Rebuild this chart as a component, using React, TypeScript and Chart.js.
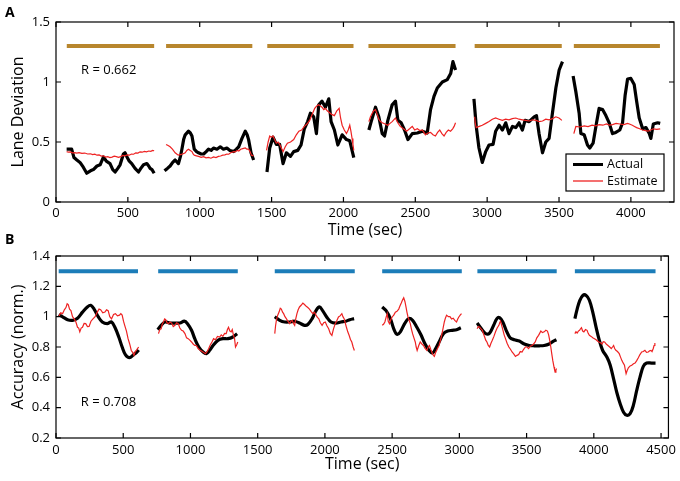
import { useEffect, useRef } from "react"
import { Chart, registerables } from "chart.js"

Chart.register(...registerables)

const FONT = "'Open Sans', 'Liberation Sans', Arial, sans-serif"

// ---- Panel A: lane deviation ----
const laneTimeTicks = [0, 500, 1000, 1500, 2000, 2500, 3000, 3500, 4000]
const laneValueTicks = [0, 0.5, 1, 1.5]
const laneBlocks = [[75, 683], [766, 1366], [1470, 2070], [2174, 2780], [2913, 3519], [3603, 4202]]
const laneActual = [
  [[74, 0.44], [109, 0.44], [125, 0.37], [145, 0.35], [167, 0.33], [190, 0.29], [214, 0.24], [240, 0.26], [260, 0.27], [285, 0.3], [307, 0.31], [330, 0.375], [350, 0.34], [376, 0.32], [395, 0.27], [411, 0.25], [430, 0.28], [446, 0.31], [469, 0.4], [480, 0.41], [492, 0.38], [510, 0.34], [527, 0.32], [550, 0.28], [574, 0.25], [590, 0.28], [609, 0.31], [632, 0.32], [645, 0.3], [655, 0.28], [668, 0.27], [683, 0.24]],
  [[755, 0.26], [775, 0.28], [794, 0.3], [812, 0.33], [829, 0.35], [852, 0.32], [866, 0.38], [876, 0.44], [888, 0.52], [899, 0.56], [922, 0.59], [935, 0.575], [946, 0.55], [962, 0.44], [978, 0.42], [992, 0.41], [1010, 0.4], [1027, 0.4], [1045, 0.42], [1061, 0.44], [1080, 0.43], [1096, 0.45], [1120, 0.44], [1143, 0.46], [1165, 0.44], [1189, 0.45], [1210, 0.43], [1236, 0.42], [1255, 0.44], [1271, 0.46], [1294, 0.53], [1317, 0.59], [1330, 0.56], [1340, 0.52], [1357, 0.41], [1375, 0.35]],
  [[1468, 0.25], [1487, 0.45], [1510, 0.54], [1533, 0.48], [1556, 0.48], [1580, 0.32], [1603, 0.41], [1631, 0.38], [1654, 0.42], [1682, 0.43], [1705, 0.475], [1728, 0.61], [1751, 0.67], [1770, 0.74], [1793, 0.71], [1812, 0.57], [1828, 0.81], [1851, 0.84], [1875, 0.79], [1898, 0.86], [1914, 0.67], [1937, 0.6], [1961, 0.475], [1991, 0.56], [2021, 0.52], [2044, 0.51], [2072, 0.37]],
  [[2177, 0.6], [2193, 0.67], [2223, 0.79], [2246, 0.71], [2270, 0.57], [2286, 0.55], [2309, 0.68], [2339, 0.81], [2362, 0.84], [2379, 0.68], [2402, 0.66], [2425, 0.6], [2449, 0.52], [2479, 0.57], [2514, 0.575], [2549, 0.59], [2583, 0.575], [2606, 0.77], [2630, 0.88], [2653, 0.95], [2688, 1.0], [2723, 1.02], [2746, 1.07], [2762, 1.17], [2780, 1.1]],
  [[2908, 0.86], [2924, 0.63], [2943, 0.45], [2966, 0.33], [2990, 0.42], [3013, 0.475], [3041, 0.48], [3059, 0.59], [3083, 0.64], [3106, 0.6], [3129, 0.66], [3152, 0.57], [3176, 0.63], [3199, 0.62], [3222, 0.66], [3245, 0.6], [3264, 0.68], [3292, 0.67], [3327, 0.71], [3343, 0.72], [3361, 0.57], [3385, 0.41], [3408, 0.5], [3431, 0.53], [3454, 0.74], [3478, 0.95], [3501, 1.1], [3524, 1.17]],
  [[3598, 1.05], [3617, 0.92], [3640, 0.74], [3652, 0.57], [3675, 0.56], [3698, 0.475], [3714, 0.45], [3737, 0.49], [3761, 0.66], [3779, 0.78], [3803, 0.77], [3826, 0.72], [3849, 0.66], [3872, 0.57], [3895, 0.58], [3923, 0.6], [3942, 0.66], [3960, 0.89], [3977, 1.025], [4000, 1.03], [4023, 0.98], [4040, 0.84], [4058, 0.7], [4082, 0.61], [4105, 0.62], [4128, 0.57], [4139, 0.53], [4156, 0.65], [4186, 0.66], [4204, 0.655]],
]
const laneEstimate = [
  [[74, 0.42], [87, 0.415], [100, 0.418], [115, 0.41], [130, 0.412], [145, 0.408], [160, 0.412], [180, 0.405], [200, 0.408], [220, 0.4], [240, 0.402], [255, 0.395], [270, 0.398], [285, 0.39], [300, 0.392], [315, 0.383], [330, 0.385], [345, 0.375], [360, 0.378], [375, 0.37], [390, 0.374], [405, 0.382], [420, 0.378], [435, 0.372], [450, 0.378], [465, 0.388], [480, 0.384], [495, 0.392], [510, 0.39], [525, 0.4], [540, 0.398], [555, 0.41], [570, 0.408], [585, 0.418], [600, 0.415], [615, 0.422], [630, 0.418], [645, 0.425], [660, 0.422], [672, 0.43], [683, 0.427]],
  [[766, 0.48], [780, 0.47], [794, 0.46], [810, 0.44], [829, 0.41], [840, 0.4], [850, 0.39], [865, 0.395], [880, 0.4], [890, 0.405], [899, 0.41], [910, 0.43], [922, 0.44], [934, 0.43], [946, 0.42], [954, 0.4], [962, 0.39], [977, 0.385], [992, 0.38], [1010, 0.372], [1027, 0.378], [1044, 0.368], [1061, 0.372], [1078, 0.365], [1096, 0.375], [1113, 0.37], [1130, 0.38], [1145, 0.383], [1160, 0.39], [1175, 0.393], [1189, 0.4], [1202, 0.398], [1215, 0.41], [1225, 0.415], [1236, 0.42], [1248, 0.418], [1260, 0.43], [1272, 0.425], [1285, 0.44], [1300, 0.445], [1317, 0.45], [1328, 0.44], [1340, 0.44], [1350, 0.42], [1360, 0.39], [1375, 0.385]],
  [[1465, 0.43], [1476, 0.5], [1487, 0.55], [1498, 0.54], [1510, 0.55], [1521, 0.52], [1533, 0.49], [1545, 0.5], [1556, 0.48], [1568, 0.45], [1580, 0.42], [1595, 0.46], [1610, 0.49], [1632, 0.5], [1654, 0.52], [1672, 0.56], [1690, 0.59], [1709, 0.6], [1728, 0.63], [1746, 0.65], [1765, 0.68], [1782, 0.73], [1800, 0.78], [1814, 0.8], [1828, 0.81], [1840, 0.8], [1851, 0.79], [1863, 0.77], [1875, 0.78], [1887, 0.76], [1898, 0.75], [1918, 0.73], [1937, 0.72], [1954, 0.76], [1970, 0.78], [1980, 0.7], [1991, 0.64], [2006, 0.6], [2021, 0.57], [2033, 0.6], [2044, 0.64], [2052, 0.59], [2060, 0.53], [2066, 0.48], [2072, 0.43]],
  [[2177, 0.67], [2188, 0.71], [2200, 0.74], [2211, 0.76], [2223, 0.77], [2235, 0.73], [2246, 0.69], [2258, 0.67], [2270, 0.66], [2290, 0.65], [2309, 0.64], [2324, 0.655], [2339, 0.67], [2350, 0.685], [2362, 0.7], [2378, 0.66], [2395, 0.63], [2418, 0.61], [2440, 0.59], [2460, 0.61], [2479, 0.63], [2496, 0.6], [2514, 0.61], [2532, 0.595], [2549, 0.6], [2560, 0.58], [2570, 0.56], [2588, 0.575], [2606, 0.58], [2623, 0.56], [2640, 0.55], [2655, 0.58], [2670, 0.6], [2685, 0.57], [2700, 0.55], [2715, 0.58], [2730, 0.6], [2745, 0.59], [2760, 0.61], [2770, 0.63], [2780, 0.66]],
  [[2913, 0.71], [2918, 0.65], [2924, 0.62], [2945, 0.63], [2966, 0.64], [2990, 0.655], [3013, 0.67], [3036, 0.69], [3059, 0.7], [3082, 0.69], [3106, 0.68], [3129, 0.69], [3152, 0.685], [3175, 0.695], [3199, 0.7], [3222, 0.69], [3245, 0.685], [3268, 0.68], [3292, 0.675], [3316, 0.685], [3340, 0.68], [3362, 0.67], [3385, 0.675], [3408, 0.69], [3431, 0.685], [3455, 0.695], [3478, 0.71], [3500, 0.7], [3520, 0.68]],
  [[3603, 0.57], [3610, 0.6], [3617, 0.63], [3646, 0.625], [3675, 0.635], [3702, 0.628], [3730, 0.64], [3755, 0.635], [3779, 0.645], [3805, 0.64], [3830, 0.65], [3851, 0.64], [3872, 0.645], [3897, 0.655], [3923, 0.65], [3950, 0.645], [3977, 0.655], [3994, 0.648], [4010, 0.64], [4025, 0.63], [4040, 0.62], [4061, 0.61], [4082, 0.6], [4101, 0.595], [4120, 0.59], [4138, 0.6], [4156, 0.61], [4180, 0.605], [4204, 0.61]],
]

// ---- Panel B: accuracy ----
const accTimeTicks = [0, 500, 1000, 1500, 2000, 2500, 3000, 3500, 4000, 4500]
const accValueTicks = [0.2, 0.4, 0.6, 0.8, 1, 1.2, 1.4]
const accBlocks = [[20, 610], [760, 1352], [1627, 2222], [2426, 3018], [3134, 3724], [3859, 4459]]
const accActual = [
  [[20, 1.013], [49, 0.999], [86, 0.98], [123, 0.976], [160, 0.99], [197, 1.03], [233, 1.064], [258, 1.075], [283, 1.05], [315, 0.998], [344, 0.965], [381, 0.954], [413, 0.965], [438, 0.93], [467, 0.866], [492, 0.8], [516, 0.75], [546, 0.73], [578, 0.75], [602, 0.767], [615, 0.78]],
  [[757, 0.914], [782, 0.943], [811, 0.965], [848, 0.958], [885, 0.958], [922, 0.958], [954, 0.97], [978, 0.954], [1008, 0.91], [1032, 0.855], [1062, 0.8], [1094, 0.767], [1118, 0.756], [1143, 0.778], [1168, 0.81], [1204, 0.844], [1241, 0.855], [1278, 0.855], [1315, 0.866], [1347, 0.888]],
  [[1627, 1.0], [1664, 0.976], [1701, 0.965], [1738, 0.965], [1775, 0.97], [1811, 0.958], [1848, 0.943], [1873, 0.948], [1905, 0.987], [1934, 1.04], [1959, 1.064], [1983, 1.04], [2013, 0.998], [2045, 0.965], [2082, 0.958], [2119, 0.965], [2156, 0.97], [2185, 0.98], [2217, 0.987]],
  [[2426, 1.064], [2455, 1.04], [2487, 0.987], [2512, 0.92], [2537, 0.883], [2561, 0.9], [2593, 0.954], [2622, 0.987], [2652, 0.976], [2684, 0.93], [2716, 0.877], [2745, 0.82], [2775, 0.777], [2800, 0.76], [2824, 0.79], [2849, 0.833], [2881, 0.888], [2913, 0.905], [2947, 0.91], [2979, 0.914], [3011, 0.927]],
  [[3132, 0.958], [3164, 0.92], [3196, 0.888], [3225, 0.892], [3255, 0.943], [3279, 0.987], [3299, 0.993], [3323, 0.965], [3348, 0.91], [3377, 0.861], [3409, 0.848], [3446, 0.839], [3483, 0.82], [3520, 0.81], [3557, 0.808], [3594, 0.808], [3631, 0.81], [3668, 0.82], [3697, 0.837], [3722, 0.848]],
  [[3859, 0.987], [3876, 1.05], [3894, 1.103], [3918, 1.14], [3943, 1.14], [3967, 1.108], [3992, 1.03], [4017, 0.93], [4041, 0.844], [4066, 0.777], [4098, 0.733], [4122, 0.68], [4147, 0.59], [4171, 0.5], [4196, 0.426], [4221, 0.37], [4245, 0.35], [4270, 0.36], [4294, 0.415], [4319, 0.514], [4343, 0.6], [4368, 0.672], [4393, 0.694], [4429, 0.694], [4459, 0.694]],
]
const accEstimate = [
  [[20, 1.0], [35, 1.025], [49, 1.02], [62, 1.045], [74, 1.06], [83, 1.085], [91, 1.08], [101, 1.05], [111, 1.04], [123, 1.0], [135, 0.985], [148, 0.965], [160, 0.93], [169, 0.925], [177, 0.9], [187, 0.925], [197, 0.93], [209, 0.955], [221, 0.954], [234, 0.935], [246, 0.936], [260, 0.97], [275, 0.985], [291, 1.0], [307, 1.03], [320, 1.05], [332, 1.046], [348, 1.025], [364, 1.03], [376, 1.045], [388, 1.04], [400, 1.0], [413, 0.985], [428, 1.015], [442, 1.02], [457, 1.005], [472, 1.01], [482, 1.02], [492, 1.01], [502, 0.97], [511, 0.943], [524, 0.905], [536, 0.855], [548, 0.82], [560, 0.777], [570, 0.765], [580, 0.745], [589, 0.77], [597, 0.777], [606, 0.79], [615, 0.8]],
  [[762, 0.888], [772, 0.915], [782, 0.92], [790, 0.95], [799, 0.965], [808, 0.985], [816, 0.98], [826, 0.96], [836, 0.954], [848, 0.965], [860, 0.958], [872, 0.935], [885, 0.943], [897, 0.96], [909, 0.954], [921, 0.925], [934, 0.91], [946, 0.905], [959, 0.888], [971, 0.86], [983, 0.855], [995, 0.845], [1008, 0.833], [1020, 0.82], [1032, 0.81], [1044, 0.81], [1057, 0.79], [1070, 0.78], [1082, 0.773], [1096, 0.765], [1111, 0.756], [1124, 0.77], [1136, 0.79], [1148, 0.815], [1160, 0.833], [1172, 0.855], [1185, 0.848], [1201, 0.87], [1217, 0.866], [1229, 0.88], [1241, 0.87], [1254, 0.89], [1266, 0.888], [1275, 0.915], [1283, 0.93], [1293, 0.905], [1303, 0.9], [1311, 0.915], [1320, 0.877], [1328, 0.855], [1335, 0.8], [1344, 0.815], [1352, 0.833]],
  [[1627, 0.888], [1633, 0.94], [1639, 0.976], [1649, 1.01], [1659, 1.03], [1668, 1.055], [1676, 1.05], [1685, 1.03], [1693, 1.02], [1703, 1.0], [1713, 0.987], [1725, 0.97], [1738, 0.954], [1747, 0.97], [1757, 0.976], [1766, 0.955], [1775, 0.943], [1783, 0.985], [1792, 1.02], [1801, 1.045], [1811, 1.064], [1823, 1.075], [1836, 1.09], [1848, 1.08], [1861, 1.068], [1873, 1.06], [1885, 1.05], [1897, 1.035], [1910, 1.02], [1922, 1.03], [1934, 1.01], [1944, 0.995], [1954, 0.987], [1966, 0.96], [1979, 0.943], [1991, 0.96], [2003, 0.965], [2015, 0.94], [2028, 0.92], [2040, 0.89], [2052, 0.877], [2064, 0.92], [2077, 0.954], [2089, 0.975], [2101, 0.998], [2113, 1.005], [2126, 1.02], [2134, 1.0], [2143, 0.987], [2151, 0.96], [2160, 0.93], [2170, 0.9], [2180, 0.877], [2190, 0.85], [2200, 0.833], [2210, 0.8], [2219, 0.777]],
  [[2426, 0.943], [2436, 0.95], [2446, 0.965], [2455, 0.995], [2463, 1.02], [2471, 0.97], [2480, 0.954], [2490, 0.98], [2500, 0.998], [2512, 1.01], [2524, 1.03], [2536, 1.035], [2549, 1.05], [2558, 1.07], [2568, 1.09], [2577, 1.11], [2586, 1.125], [2595, 1.1], [2603, 1.064], [2610, 1.03], [2618, 0.998], [2627, 0.975], [2635, 0.954], [2643, 0.92], [2652, 0.888], [2662, 0.86], [2672, 0.833], [2679, 0.8], [2686, 0.777], [2698, 0.81], [2709, 0.833], [2721, 0.82], [2733, 0.81], [2745, 0.79], [2758, 0.777], [2768, 0.8], [2777, 0.81], [2789, 0.78], [2800, 0.756], [2807, 0.745], [2814, 0.738], [2822, 0.76], [2831, 0.777], [2840, 0.795], [2849, 0.81], [2858, 0.84], [2868, 0.877], [2878, 0.92], [2888, 0.965], [2896, 0.99], [2905, 1.01], [2918, 1.0], [2930, 1.0], [2942, 0.985], [2954, 0.99], [2966, 0.975], [2979, 0.965], [2988, 0.985], [2996, 0.998], [3006, 1.01], [3016, 1.02]],
  [[3132, 0.92], [3141, 0.935], [3151, 0.93], [3161, 0.92], [3171, 0.91], [3180, 0.885], [3188, 0.866], [3196, 0.845], [3205, 0.833], [3215, 0.81], [3225, 0.8], [3235, 0.825], [3245, 0.844], [3257, 0.87], [3269, 0.9], [3281, 0.925], [3294, 0.943], [3300, 0.96], [3306, 0.97], [3314, 0.945], [3323, 0.914], [3333, 0.88], [3343, 0.855], [3355, 0.825], [3368, 0.8], [3380, 0.785], [3392, 0.767], [3404, 0.755], [3417, 0.738], [3429, 0.745], [3441, 0.75], [3453, 0.77], [3466, 0.767], [3478, 0.785], [3491, 0.8], [3503, 0.8], [3515, 0.79], [3527, 0.805], [3540, 0.81], [3552, 0.82], [3564, 0.833], [3576, 0.86], [3589, 0.877], [3597, 0.89], [3606, 0.905], [3618, 0.895], [3631, 0.9], [3643, 0.91], [3655, 0.905], [3664, 0.88], [3672, 0.844], [3680, 0.8], [3687, 0.756], [3695, 0.71], [3704, 0.668], [3708, 0.65], [3712, 0.635], [3718, 0.65], [3724, 0.657]],
  [[3859, 0.888], [3867, 0.9], [3876, 0.892], [3885, 0.905], [3894, 0.91], [3901, 0.92], [3908, 0.927], [3917, 0.905], [3926, 0.9], [3938, 0.915], [3950, 0.91], [3958, 0.89], [3967, 0.877], [3980, 0.87], [3992, 0.861], [4005, 0.855], [4017, 0.848], [4027, 0.84], [4036, 0.833], [4048, 0.83], [4061, 0.82], [4070, 0.835], [4080, 0.833], [4092, 0.82], [4105, 0.81], [4118, 0.8], [4130, 0.79], [4139, 0.8], [4147, 0.81], [4155, 0.79], [4164, 0.778], [4176, 0.77], [4189, 0.756], [4198, 0.735], [4208, 0.712], [4218, 0.695], [4228, 0.68], [4234, 0.65], [4240, 0.624], [4248, 0.645], [4257, 0.663], [4270, 0.675], [4282, 0.68], [4295, 0.69], [4307, 0.694], [4319, 0.71], [4331, 0.729], [4343, 0.75], [4356, 0.767], [4368, 0.77], [4380, 0.778], [4392, 0.765], [4405, 0.767], [4415, 0.775], [4425, 0.778], [4433, 0.77], [4442, 0.79], [4448, 0.81], [4454, 0.826]],
]

const blockLevel = 1.3

function toPoints(segments: number[][][]) {
  const pts: { x: number; y: number | null }[] = []
  segments.forEach((seg) => {
    seg.forEach(([x, y]) => pts.push({ x, y }))
    pts.push({ x: seg[seg.length - 1][0] + 1, y: null })
  })
  return pts
}

function blockSegments(blocks: number[][]) {
  return blocks.map(([a, b]) => [[a, blockLevel], [b, blockLevel]])
}

interface FrameOpts {
  letter: string
  letterY: number
  rText: string
  rAt: [number, number]
  legend: boolean
}

// draws the matlab style box, inward ticks, labels and legend
function framePlugin(o: FrameOpts) {
  return {
    id: "matlabFrame",
    afterDatasetsDraw(chart: Chart) {
      const { ctx, chartArea: a } = chart
      const xs = chart.scales.x
      const ys = chart.scales.y
      const len = 5
      ctx.save()
      ctx.strokeStyle = "#000"
      ctx.lineWidth = 1.2
      ctx.strokeRect(a.left, a.top, a.right - a.left, a.bottom - a.top)
      ctx.beginPath()
      xs.ticks.forEach((t) => {
        const px = xs.getPixelForValue(t.value)
        ctx.moveTo(px, a.bottom)
        ctx.lineTo(px, a.bottom - len)
        ctx.moveTo(px, a.top)
        ctx.lineTo(px, a.top + len)
      })
      ys.ticks.forEach((t) => {
        const py = ys.getPixelForValue(t.value)
        ctx.moveTo(a.left, py)
        ctx.lineTo(a.left + len, py)
        ctx.moveTo(a.right, py)
        ctx.lineTo(a.right - len, py)
      })
      ctx.stroke()

      ctx.fillStyle = "#000"
      ctx.textBaseline = "middle"
      ctx.textAlign = "left"
      ctx.font = `13px ${FONT}`
      ctx.fillText(o.rText, xs.getPixelForValue(o.rAt[0]), ys.getPixelForValue(o.rAt[1]))

      ctx.font = `bold 14px ${FONT}`
      ctx.fillText(o.letter, 5, o.letterY)

      if (o.legend) {
        const bx = a.right - 108
        const by = a.bottom - 48
        const bw = 98
        const bh = 37
        ctx.fillStyle = "#fff"
        ctx.fillRect(bx, by, bw, bh)
        ctx.lineWidth = 1.2
        ctx.strokeRect(bx, by, bw, bh)
        ctx.lineWidth = 3
        ctx.strokeStyle = "#000"
        ctx.beginPath()
        ctx.moveTo(bx + 7, by + 10.5)
        ctx.lineTo(bx + 37, by + 10.5)
        ctx.stroke()
        ctx.lineWidth = 1.3
        ctx.strokeStyle = "#ee2222"
        ctx.beginPath()
        ctx.moveTo(bx + 7, by + 27)
        ctx.lineTo(bx + 37, by + 27)
        ctx.stroke()
        ctx.fillStyle = "#000"
        ctx.font = `12.5px ${FONT}`
        ctx.fillText("Actual", bx + 41, by + 10.5)
        ctx.fillText("Estimate", bx + 41, by + 27)
      }
      ctx.restore()
    },
  }
}

interface PanelProps {
  actual: number[][][]
  estimate: number[][][]
  blocks: number[][]
  blockColor: string
  xTicks: number[]
  yTicks: number[]
  xMax: number
  yMin: number
  yMax: number
  yTitle: string
  padding: { left: number; top: number; right: number; bottom: number }
  xHeight: number
  xTickPad: number
  xTitlePad: number
  smooth: number
  frame: FrameOpts
}

function Panel(p: PanelProps) {
  const chartRef = useRef<HTMLCanvasElement>(null)

  useEffect(() => {
    if (!chartRef.current) return
    const ctx = chartRef.current.getContext("2d")
    if (!ctx) return

    const chart = new Chart(ctx, {
      type: "line",
      data: {
        datasets: [
          {
            label: "Estimate",
            data: toPoints(p.estimate),
            borderColor: "#ee2222",
            borderWidth: 1.2,
            pointRadius: 0,
            spanGaps: false,
          },
          {
            label: "Actual",
            data: toPoints(p.actual),
            borderColor: "#000",
            borderWidth: 3.2,
            pointRadius: 0,
            tension: p.smooth,
            borderJoinStyle: "round",
            spanGaps: false,
          },
          {
            label: "Blocks",
            data: toPoints(blockSegments(p.blocks)),
            borderColor: p.blockColor,
            borderWidth: 4,
            pointRadius: 0,
            spanGaps: false,
          },
        ],
      },
      options: {
        responsive: false,
        animation: false,
        events: [],
        layout: { padding: p.padding },
        plugins: {
          legend: { display: false },
          tooltip: { enabled: false },
        },
        scales: {
          x: {
            type: "linear",
            min: 0,
            max: p.xMax,
            afterFit: (s) => {
              s.height = p.xHeight
            },
            afterBuildTicks: (s) => {
              s.ticks = p.xTicks.map((v) => ({ value: v }))
            },
            grid: { display: false, drawTicks: false },
            border: { display: false },
            ticks: {
              color: "#000",
              padding: p.xTickPad,
              maxRotation: 0,
              font: { family: FONT, size: 13 },
              callback: (v) => String(v),
            },
            title: {
              display: true,
              text: "Time (sec)",
              color: "#000",
              font: { family: FONT, size: 16 },
              padding: { top: 0, bottom: p.xTitlePad },
            },
          },
          y: {
            type: "linear",
            min: p.yMin,
            max: p.yMax,
            afterFit: (s) => {
              s.width = 56
            },
            afterBuildTicks: (s) => {
              s.ticks = p.yTicks.map((v) => ({ value: v }))
            },
            grid: { display: false, drawTicks: false },
            border: { display: false },
            ticks: {
              color: "#000",
              padding: 6,
              font: { family: FONT, size: 13 },
              callback: (v) => String(v),
            },
            title: {
              display: true,
              text: p.yTitle,
              color: "#000",
              font: { family: FONT, size: 16 },
              padding: { top: 9, bottom: 0 },
            },
          },
        },
      },
      plugins: [framePlugin(p.frame)],
    })

    return () => {
      chart.destroy()
    }
  }, [p])

  return (
    <canvas
      ref={chartRef}
      width={680}
      height={481}
      style={{ position: "absolute", left: 0, top: 0, width: 680, height: 481 }}
    ></canvas>
  )
}

const panelA: PanelProps = {
  actual: laneActual,
  estimate: laneEstimate,
  blocks: laneBlocks,
  blockColor: "#b8862d",
  xTicks: laneTimeTicks,
  yTicks: laneValueTicks,
  xMax: 4300,
  yMin: 0,
  yMax: 1.5,
  yTitle: "Lane Deviation",
  padding: { left: 0, top: 22, right: 6, bottom: 241 },
  xHeight: 38,
  xTickPad: 3,
  xTitlePad: 0,
  smooth: 0,
  frame: { letter: "A", letterY: 13, rText: "R = 0.662", rAt: [174, 1.1], legend: true },
}

const panelB: PanelProps = {
  actual: accActual,
  estimate: accEstimate,
  blocks: accBlocks,
  blockColor: "#1c7db9",
  xTicks: accTimeTicks,
  yTicks: accValueTicks,
  xMax: 4555,
  yMin: 0.2,
  yMax: 1.4,
  yTitle: "Accuracy (norm.)",
  padding: { left: 0, top: 256, right: 7, bottom: 0 },
  xHeight: 43,
  xTickPad: 4,
  xTitlePad: 7,
  smooth: 0.35,
  frame: { letter: "B", letterY: 240, rText: "R = 0.708", rAt: [184, 0.434], legend: false },
}

export default function App() {
  return (
    <div style={{ position: "absolute", left: 0, top: 0, width: 680, height: 481, background: "#fff" }}>
      <Panel {...panelA} />
      <Panel {...panelB} />
    </div>
  )
}
